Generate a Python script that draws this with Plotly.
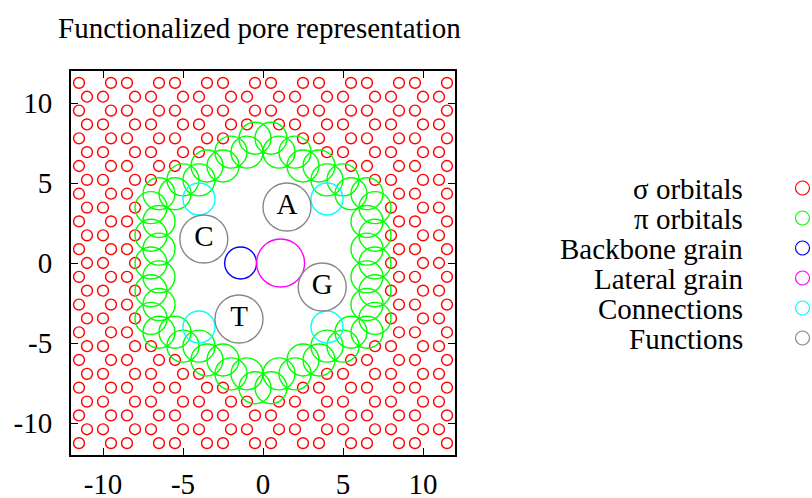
import plotly.graph_objects as go

# ---------------- data ----------------
# sigma orbitals (graphene lattice), one list of x per row
SIGMA_ROW_Y = [11.258, 10.392, 9.526, 8.660, 7.794, 6.928, 6.062, 5.196, 4.330,
               3.464, 2.598, 1.732, 0.866, 0.0, -0.866, -1.732, -2.598, -3.464,
               -4.330, -5.196, -6.062, -6.928, -7.794, -8.660, -9.526, -10.392, -11.258]
SIGMA_ROW_X = [
    [-11.5, -9.5, -8.5, -6.5, -5.5, -3.5, -2.5, -0.5, 0.5, 2.5, 3.5, 5.5, 6.5, 8.5, 9.5, 11.5],
    [-11, -10, -8, -7, -5, -4, -2, -1, 1, 2, 4, 5, 7, 8, 10, 11],
    [-11.5, -9.5, -8.5, -6.5, -5.5, -3.5, -2.5, -0.5, 0.5, 2.5, 3.5, 5.5, 6.5, 8.5, 9.5, 11.5],
    [-11, -10, -8, -7, -5, -4, -2, -1, 1, 2, 4, 5, 7, 8, 10, 11],
    [-11.5, -9.5, -8.5, -6.5, -5.5, -3.5, -2.5, 2.5, 3.5, 5.5, 6.5, 8.5, 9.5, 11.5],
    [-11, -10, -8, -7, -5, -4, 4, 5, 7, 8, 10, 11],
    [-11.5, -9.5, -8.5, -6.5, -5.5, 5.5, 6.5, 8.5, 9.5, 11.5],
    [-11, -10, -8, -7, 7, 8, 10, 11],
    [-11.5, -9.5, -8.5, 8.5, 9.5, 11.5],
    [-11, -10, -8, 8, 10, 11],
    [-11.5, -9.5, -8.5, 8.5, 9.5, 11.5],
    [-11, -10, -8, 8, 10, 11],
    [-11.5, -9.5, -8.5, 8.5, 9.5, 11.5],
    [-11, -10, -8, 8, 10, 11],
    [-11.5, -9.5, -8.5, 8.5, 9.5, 11.5],
    [-11, -10, -8, 8, 10, 11],
    [-11.5, -9.5, -8.5, 8.5, 9.5, 11.5],
    [-11, -10, -8, 8, 10, 11],
    [-11.5, -9.5, -8.5, 8.5, 9.5, 11.5],
    [-11, -10, -8, -7, 7, 8, 10, 11],
    [-11.5, -9.5, -8.5, -6.5, -5.5, 5.5, 6.5, 8.5, 9.5, 11.5],
    [-11, -10, -8, -7, -5, -4, 4, 5, 7, 8, 10, 11],
    [-11.5, -9.5, -8.5, -6.5, -5.5, -3.5, -2.5, 2.5, 3.5, 5.5, 6.5, 8.5, 9.5, 11.5],
    [-11, -10, -8, -7, -5, -4, -2, -1, 1, 2, 4, 5, 7, 8, 10, 11],
    [-11.5, -9.5, -8.5, -6.5, -5.5, -3.5, -2.5, -0.5, 0.5, 2.5, 3.5, 5.5, 6.5, 8.5, 9.5, 11.5],
    [-11, -10, -8, -7, -5, -4, -2, -1, 1, 2, 4, 5, 7, 8, 10, 11],
    [-11.5, -9.5, -8.5, -6.5, -5.5, -3.5, -2.5, -0.5, 0.5, 2.5, 3.5, 5.5, 6.5, 8.5, 9.5, 11.5],
]

# pi orbitals (pore edge atoms), one list of x per row
PI_ROW_Y = [7.794, 6.928, 6.062, 5.196, 4.330, 3.464, 2.598, 1.732, 0.866, 0.0,
            -0.866, -1.732, -2.598, -3.464, -4.330, -5.196, -6.062, -6.928, -7.794]
PI_ROW_X = [
    [-0.5, 0.5],
    [-2, -1, 1, 2],
    [-3.5, -2.5, 2.5, 3.5],
    [-5, -4, 4, 5],
    [-6.5, -5.5, 5.5, 6.5],
    [-7, 7],
    [-6.5, 6.5],
    [-7, 7],
    [-6.5, 6.5],
    [-7, 7],
    [-6.5, 6.5],
    [-7, 7],
    [-6.5, 6.5],
    [-7, 7],
    [-6.5, -5.5, 5.5, 6.5],
    [-5, -4, 4, 5],
    [-3.5, -2.5, 2.5, 3.5],
    [-2, -1, 1, 2],
    [-0.5, 0.5],
]

BACKBONE_X = [-1.4]
BACKBONE_Y = [0.0]
LATERAL_X = [1.1]
LATERAL_Y = [0.0]
CONNECTION_X = [-4, 4, -4, 4]
CONNECTION_Y = [4, 4, -4, -4]
FUNCTION_X = [1.5, -3.7, 3.7, -1.5]
FUNCTION_Y = [3.5, 1.5, -1.5, -3.5]
FUNCTION_LABELS = ["A", "C", "G", "T"]

LEGEND_LABELS = ["σ orbitals", "π orbitals", "Backbone grain", "Lateral grain",
                 "Connections", "Functions"]
TICKS = [-10, -5, 0, 5, 10]

# ---------------- styling ----------------
FONT = "Liberation Serif"
FS = 29
PX_PER_UNIT = 16.0
COLORS = ["#ff0000", "#00ff00", "#0000ff", "#ff00ff", "#00ffff", "#888888"]
RADII = [0.34, 1.0, 1.0, 1.5, 1.0, 1.5]
LW = 1.4

W, H = 812, 498
ML, MT = 71, 71
PLOT = 384
MR = 0
MB = H - MT - PLOT
PAPER_W = W - ML - MR
PAPER_H = H - MT - MB


def flat(rows_y, rows_x):
    xs, ys = [], []
    for y, row in zip(rows_y, rows_x):
        for x in row:
            xs.append(x)
            ys.append(y)
    return xs, ys


def py2paper(py):
    return (MT + PAPER_H - py) / PAPER_H


sig_x, sig_y = flat(SIGMA_ROW_Y, SIGMA_ROW_X)
pi_x, pi_y = flat(PI_ROW_Y, PI_ROW_X)

series = [
    (sig_x, sig_y),
    (pi_x, pi_y),
    (BACKBONE_X, BACKBONE_Y),
    (LATERAL_X, LATERAL_Y),
    (CONNECTION_X, CONNECTION_Y),
    (FUNCTION_X, FUNCTION_Y),
]

fig = go.Figure()
for i, (xs, ys) in enumerate(series):
    size = 2 * RADII[i] * PX_PER_UNIT
    if i == 5:
        kw = dict(mode="markers+text", text=FUNCTION_LABELS, textposition="middle center",
                  textfont=dict(family=FONT, size=29, color="black"))
    else:
        kw = dict(mode="markers")
    fig.add_trace(go.Scatter(
        x=xs, y=ys, name=LEGEND_LABELS[i], cliponaxis=True,
        marker=dict(symbol="circle-open", size=size, color=COLORS[i],
                    line=dict(width=LW, color=COLORS[i])),
        hoverinfo="skip", showlegend=False, xaxis="x", yaxis="y", **kw))

# custom legend (text left of symbol, like gnuplot)
LEG_ROW_PX = [188, 218, 248, 278, 308, 338]
fig.add_trace(go.Scatter(
    x=[0.5] * len(LEGEND_LABELS), y=LEG_ROW_PX, mode="markers",
    marker=dict(symbol="circle-open", size=14, color=COLORS,
                line=dict(width=1.2, color=COLORS)),
    hoverinfo="skip", showlegend=False, xaxis="x2", yaxis="y2"))

annotations = []
for lab, yp in zip(LEGEND_LABELS, LEG_ROW_PX):
    annotations.append(dict(text=lab, xref="paper", yref="paper", x=(745 - ML) / PAPER_W,
                            y=py2paper(yp + 1), xanchor="right", yanchor="middle",
                            showarrow=False, font=dict(family=FONT, size=FS, color="black")))
annotations.append(dict(text="Functionalized pore representation", xref="paper", yref="paper",
                        x=(259 - ML) / PAPER_W, y=py2paper(28), xanchor="center",
                        yanchor="middle", showarrow=False,
                        font=dict(family=FONT, size=FS, color="black")))

axis_common = dict(range=[-12, 12], tickvals=TICKS, ticktext=[str(t) for t in TICKS],
                   ticks="inside", ticklen=7, tickwidth=1, tickcolor="black",
                   showline=True, linewidth=2, linecolor="black", mirror="ticks",
                   showgrid=False, zeroline=False,
                   tickfont=dict(family=FONT, size=FS, color="black"))

fig.update_layout(
    width=W, height=H,
    margin=dict(l=ML, r=MR, t=MT, b=MB, autoexpand=False),
    paper_bgcolor="white", plot_bgcolor="white",
    showlegend=False,
    xaxis=dict(domain=[0, PLOT / PAPER_W], anchor="y", ticklabelstandoff=2, **axis_common),
    yaxis=dict(domain=[0, 1], anchor="x", ticklabelstandoff=11, **axis_common),
    xaxis2=dict(domain=[(793 - ML) / PAPER_W, 1.0], range=[0, 1], visible=False, anchor="y2"),
    yaxis2=dict(domain=[0, 1], range=[MT + PLOT, MT], visible=False, anchor="x2"),
    annotations=annotations,
)

fig.write_html("out.html", config={"displayModeBar": False},
               post_script="document.body.style.margin='0px';")
